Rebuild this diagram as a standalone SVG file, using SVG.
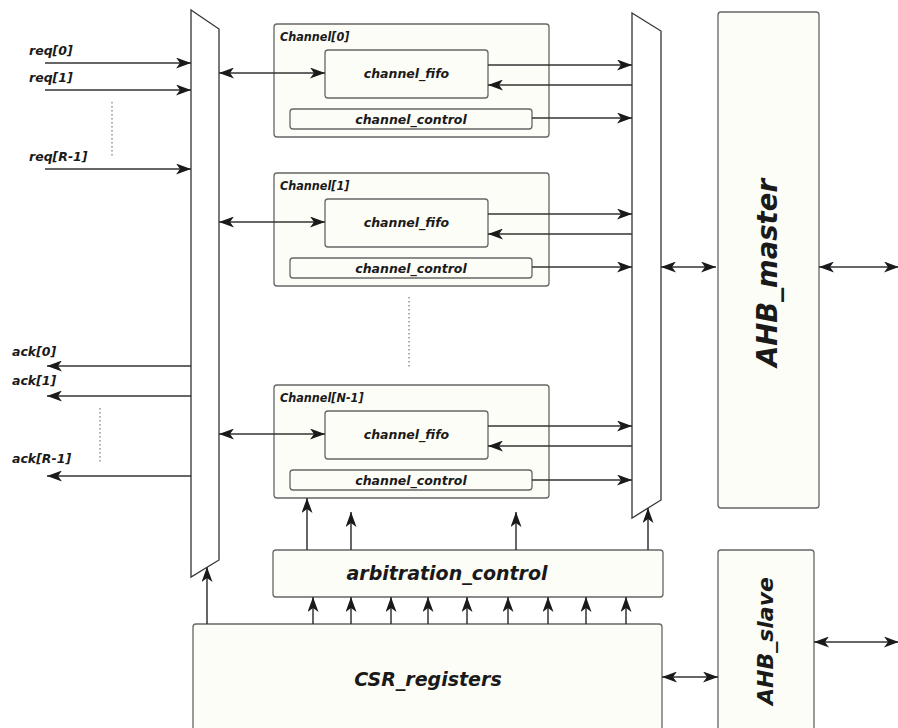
<svg xmlns="http://www.w3.org/2000/svg" width="898" height="728" viewBox="0 0 898 728">
<defs>
<style>
.box{fill:#fdfdf7;stroke:#666;stroke-width:1.3}
.mux{fill:#ffffff;stroke:#333;stroke-width:1.3}
.t{font-family:"DejaVu Sans","Liberation Sans",sans-serif;font-weight:bold;font-style:italic;fill:#1a1a1a}
.tc{font-family:"DejaVu Sans Condensed","DejaVu Sans",sans-serif;font-stretch:condensed;font-weight:bold;font-style:italic;fill:#1a1a1a}
.c line{stroke:#333;stroke-width:1.5;fill:none}
.c line.a{marker-end:url(#ah)}
.c line.b{marker-start:url(#ah);marker-end:url(#ah)}
.c line.d{stroke:#777;stroke-width:1.2;stroke-dasharray:1.5 2.5}
</style>
<marker id="ah" viewBox="0 0 15 11" refX="15" refY="5.5" markerWidth="15" markerHeight="11" markerUnits="userSpaceOnUse" orient="auto-start-reverse">
<path d="M0,0 L15,5.5 L0,11 L4,5.5 z" fill="#1a1a1a"/>
</marker>
</defs>
<rect x="0" y="0" width="898" height="728" fill="#ffffff"/>

<g id="left_mux"><polygon class="mux" points="191,10 219,29 219,560 191,577"/></g>
<g id="right_mux"><polygon class="mux" points="632,13 661,31 661,500 632,518"/></g>

<g id="channel0">
<rect class="box" x="274" y="24" width="275" height="113" rx="3"/>
<text class="tc" x="280" y="41" font-size="12.5">Channel[0]</text>
<g id="channel0_fifo"><rect class="box" x="325" y="50" width="163" height="48" rx="3"/>
<text class="t" x="406.5" y="78" font-size="12.5" text-anchor="middle">channel_fifo</text></g>
<g id="channel0_control"><rect class="box" x="290" y="109" width="242" height="20" rx="3"/>
<text class="t" x="411" y="123.5" font-size="12.5" text-anchor="middle">channel_control</text></g>
</g>

<g id="channel1">
<rect class="box" x="274" y="173" width="275" height="113" rx="3"/>
<text class="tc" x="280" y="190" font-size="12.5">Channel[1]</text>
<g id="channel1_fifo"><rect class="box" x="325" y="199" width="163" height="48" rx="3"/>
<text class="t" x="406.5" y="227" font-size="12.5" text-anchor="middle">channel_fifo</text></g>
<g id="channel1_control"><rect class="box" x="290" y="258" width="242" height="20" rx="3"/>
<text class="t" x="411" y="272.5" font-size="12.5" text-anchor="middle">channel_control</text></g>
</g>

<g id="channelN1">
<rect class="box" x="274" y="385" width="275" height="113" rx="3"/>
<text class="tc" x="280" y="402" font-size="12.5">Channel[N-1]</text>
<g id="channelN1_fifo"><rect class="box" x="325" y="411" width="163" height="48" rx="3"/>
<text class="t" x="406.5" y="439" font-size="12.5" text-anchor="middle">channel_fifo</text></g>
<g id="channelN1_control"><rect class="box" x="290" y="470" width="242" height="20" rx="3"/>
<text class="t" x="411" y="484.5" font-size="12.5" text-anchor="middle">channel_control</text></g>
</g>

<g id="ahb_master">
<rect class="box" x="718" y="12" width="101" height="496" rx="3"/>
<text class="t" transform="translate(777,273) rotate(-90)" font-size="27.5" text-anchor="middle">AHB_master</text>
</g>
<g id="ahb_slave">
<rect class="box" x="718" y="550" width="96" height="200" rx="3"/>
<text class="t" transform="translate(773,641) rotate(-90)" font-size="22" text-anchor="middle">AHB_slave</text>
</g>
<g id="arbitration_control">
<rect class="box" x="273" y="550" width="390" height="47" rx="3"/>
<text class="t" x="447" y="580" font-size="19" text-anchor="middle">arbitration_control</text>
</g>
<g id="csr_registers">
<rect class="box" x="193" y="624" width="469" height="120" rx="3"/>
<text class="t" x="428" y="686" font-size="19" text-anchor="middle">CSR_registers</text>
</g>

<g id="labels">
<text class="t" x="29" y="55" font-size="12.5">req[0]</text>
<text class="t" x="29" y="82" font-size="12.5">req[1]</text>
<text class="t" x="29" y="161" font-size="12.5">req[R-1]</text>
<text class="t" x="12" y="356" font-size="12.5">ack[0]</text>
<text class="t" x="12" y="385" font-size="12.5">ack[1]</text>
<text class="t" x="12" y="463" font-size="12.5">ack[R-1]</text>
</g>

<g id="connectors" class="c">
<line class="a" x1="45" y1="63" x2="191" y2="63"/>
<line class="a" x1="45" y1="90" x2="191" y2="90"/>
<line class="a" x1="45" y1="169" x2="191" y2="169"/>
<line class="a" x1="191" y1="366" x2="47" y2="366"/>
<line class="a" x1="191" y1="396" x2="47" y2="396"/>
<line class="a" x1="191" y1="476" x2="47" y2="476"/>
<line class="d" x1="112" y1="102" x2="112" y2="156"/>
<line class="d" x1="100" y1="408" x2="100" y2="463"/>
<line class="d" x1="409" y1="297" x2="409" y2="368"/>

<line class="b" x1="219" y1="73" x2="325" y2="73"/>
<line class="a" x1="488" y1="65" x2="632" y2="65"/>
<line class="a" x1="632" y1="85" x2="488" y2="85"/>
<line class="a" x1="532" y1="118" x2="632" y2="118"/>

<line class="b" x1="219" y1="222" x2="325" y2="222"/>
<line class="a" x1="488" y1="214" x2="632" y2="214"/>
<line class="a" x1="632" y1="234" x2="488" y2="234"/>
<line class="a" x1="532" y1="267" x2="632" y2="267"/>

<line class="b" x1="219" y1="434" x2="325" y2="434"/>
<line class="a" x1="488" y1="426" x2="632" y2="426"/>
<line class="a" x1="632" y1="446" x2="488" y2="446"/>
<line class="a" x1="532" y1="480" x2="632" y2="480"/>

<line class="b" x1="661" y1="267" x2="716" y2="267"/>
<line class="b" x1="819" y1="267" x2="899" y2="267"/>
<line class="b" x1="814" y1="642" x2="899" y2="642"/>
<line class="b" x1="662" y1="677" x2="718" y2="677"/>

<line class="a" x1="207" y1="624" x2="207" y2="567"/>
<line class="a" x1="313" y1="624" x2="313" y2="597"/>
<line class="a" x1="351" y1="624" x2="351" y2="597"/>
<line class="a" x1="391" y1="624" x2="391" y2="597"/>
<line class="a" x1="428" y1="624" x2="428" y2="597"/>
<line class="a" x1="467" y1="624" x2="467" y2="597"/>
<line class="a" x1="508" y1="624" x2="508" y2="597"/>
<line class="a" x1="548" y1="624" x2="548" y2="597"/>
<line class="a" x1="586" y1="624" x2="586" y2="597"/>
<line class="a" x1="626" y1="624" x2="626" y2="597"/>

<line class="a" x1="307" y1="550" x2="307" y2="498"/>
<line class="a" x1="351" y1="550" x2="351" y2="512"/>
<line class="a" x1="516" y1="550" x2="516" y2="512"/>
<line class="a" x1="648" y1="550" x2="648" y2="508"/>
</g>
</svg>
